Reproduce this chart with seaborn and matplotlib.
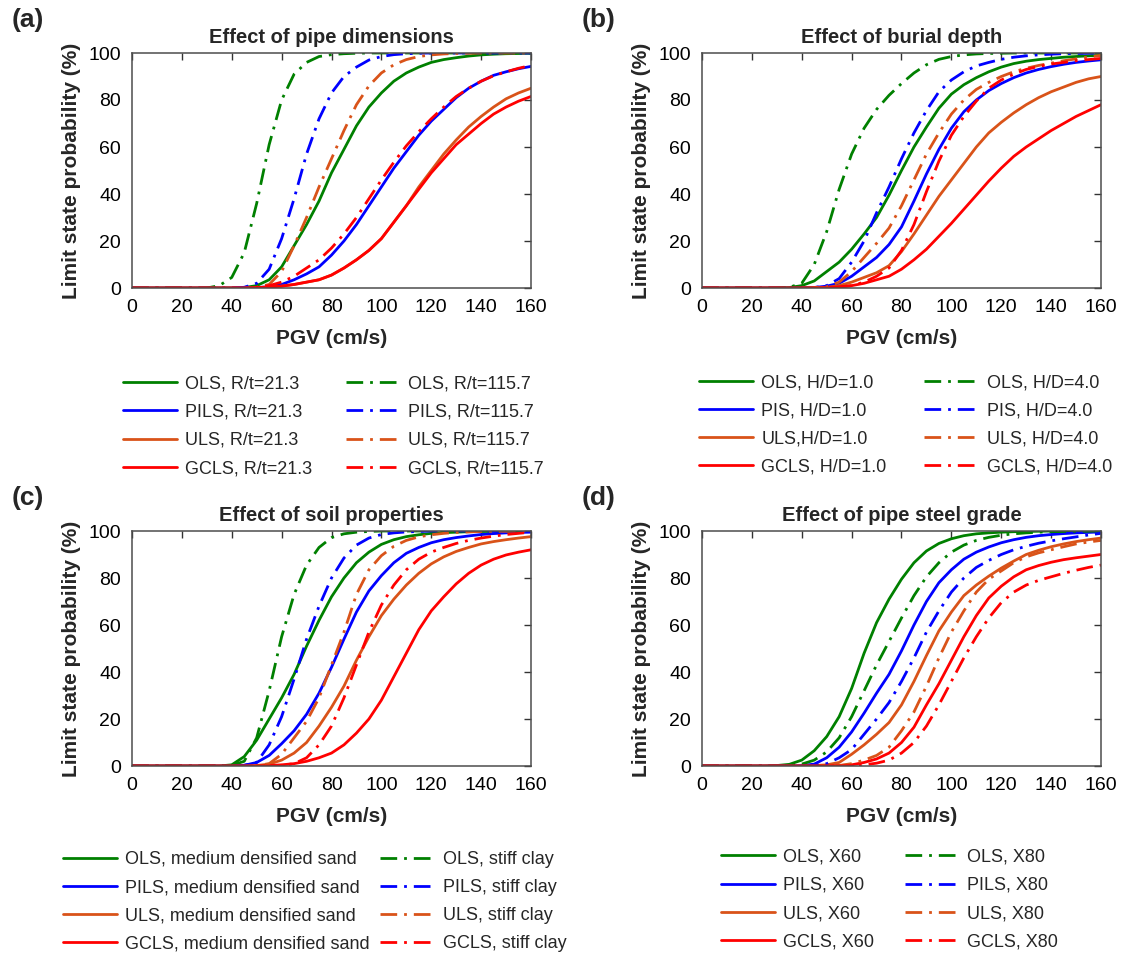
import numpy as np
import pandas as pd
import seaborn as sns
import matplotlib.pyplot as plt

# ---------------- data ----------------
PGV = list(range(0, 165, 5))  # cm/s

# (a) Effect of pipe dimensions
a_ols_213 = [0,0,0,0,0,0,0,0,0, 0.2,1,3.5,9,18,27,37,49,59,69,77,83,88,91.5,94,96,97.2,98,98.7,99.2,99.5,99.7,99.8,99.9]
a_pils_213 = [0,0,0,0,0,0,0,0,0,0, 0.2,0.5,1.5,3.5,6,9,14,20,27,35,43,51,58,65,71,76,81,85,88,90.5,92,93.3,94.3]
a_uls_213 = [0,0,0,0,0,0,0,0,0,0, 0.2,0.4,0.8,1.5,2.5,3.5,5.5,8.5,12,16,21,28,35,43,50,57,63,68.5,73,77,80.5,83,85]
a_gcls_213 = [0,0,0,0,0,0,0,0,0,0, 0.2,0.4,0.8,1.5,2.5,3.5,5.5,8.5,12,16,21,28,35,42,49,55,61,65.5,70,74,77,79.5,81.5]
a_ols_1157 = [0,0,0,0,0,0,0, 1,4.5,15,36,61,80,91,96,98.5,99.3,99.7,99.9, 100,100,100,100,100,100,100,100,100,100,100,100,100,100]
a_pils_1157 = [0,0,0,0,0,0,0,0,0, 0.3,2,8,21,38,57,72,83,90,94,97,98.5,99.3,99.7,99.9, 100,100,100,100,100,100,100,100,100]
a_uls_1157 = [0,0,0,0,0,0,0,0,0,0, 0.3,1.5,7,18,30,43,55,67,78,86,91.5,95,97.2,98.5,99.2,99.6,99.8,99.9, 100,100,100,100,100]
a_gcls_1157 = [0,0,0,0,0,0,0,0,0,0, 0.3,1,2.5,5,8.5,12,17,23,30,38,46,53.5,60.5,66.5,72,77,81.5,85,88,90.3,92,93.5,94.7]

# (b) Effect of burial depth
b_ols_10 = [0,0,0,0,0,0,0, 0.2,1,3,7,11,16.5,23,30,39.5,50,60,68.5,76.5,82.5,86.5,89.5,92,94,95.5,96.5,97.2,97.7,98.2,98.5,98.8,99]
b_pis_10 = [0,0,0,0,0,0,0,0,0, 0.2,0.8,2,5,9,13,18.5,26,37,48.5,59,68,75,80,84,87,89.5,91.5,93,94.2,95.2,96,96.6,97.1]
b_uls_10 = [0,0,0,0,0,0,0,0,0,0, 0.3,1,2.5,4.5,6.5,9.5,15.5,23,31,39,46,53,60,66,70.5,74.5,78,81,83.5,85.5,87.5,89,90]
b_gcls_10 = [0,0,0,0,0,0,0,0,0,0, 0.2,0.5,1,2,3.5,5,8,12,16.5,22,27.5,33.5,39.5,45.5,51,56,60,63.5,67,70,73,75.5,78]
b_ols_40 = [0,0,0,0,0,0,0, 0.3,2,10,24,42,57,68,76,82,87,91.5,95,97.3,98.5,99.2,99.6,99.8,99.9, 100,100,100,100,100,100,100,100]
b_pis_40 = [0,0,0,0,0,0,0,0,0, 0.2,1,4,11,20,32,43,55,66,75.5,83.5,88.5,92,94.5,96,97.3,98.2,98.8,99.2,99.5,99.7,99.8,99.9,100]
b_uls_40 = [0,0,0,0,0,0,0,0,0, 0.2,0.5,2.5,7,13,19,25.5,35,46,57,66,74,80,84.5,87.5,90,92,93.5,94.7,95.7,96.7,97.5,98.3,99]
b_gcls_40 = [0,0,0,0,0,0,0,0,0,0,0, 0.3,1,2.5,5,8.5,16,27,41,54,65,73,79.5,85,88.5,91,93,94.3,95.3,96,96.7,97.2,97.7]

# (c) Effect of soil properties
c_ols_med = [0,0,0,0,0,0,0,0, 0.5,4,11,20,29,39,51,62,72,80,86.5,91,94.3,96.3,97.6,98.4,99,99.3,99.5,99.7,99.8,99.9,100,100,100]
c_pils_med = [0,0,0,0,0,0,0,0,0, 0.3,1.5,4.5,9.5,15,22,31,42,54,65.5,74.5,81,86.5,90.5,93,95,96.3,97.2,97.9,98.5,98.9,99.2,99.4,99.5]
c_uls_med = [0,0,0,0,0,0,0,0,0,0, 0.2,0.8,2.5,5.5,10,17,25,34,45,55,64,71,77,82,86,89,91.3,93,94.5,95.5,96.3,97,97.6]
c_gcls_med = [0,0,0,0,0,0,0,0,0,0,0, 0.2,0.5,1,2,3.5,5.5,9,14,20,28,38,48,58,66,72,77.5,82,85.5,88,89.8,91,92]
c_ols_clay = [0,0,0,0,0,0,0,0, 0.3,2,12,32,55,73,85.5,93,97.2,98.8,99.5,99.8, 100,100,100,100,100,100,100,100,100,100,100,100,100]
c_pils_clay = [0,0,0,0,0,0,0,0,0, 0.3,1.5,9,21,37,54,68,80,88.5,94,97,98.5,99.2,99.6,99.8, 100,100,100,100,100,100,100,100,100]
c_uls_clay = [0,0,0,0,0,0,0,0,0,0, 0.2,1,5,12,19,29,43,57,73,83.5,89.5,93.5,96,97.5,98.4,99,99.4,99.6,99.8,99.9,99.9,100,100]
c_gcls_clay = [0,0,0,0,0,0,0,0,0,0,0,0, 0.3,1,3.5,9,17,29,43,57,68.5,77,83.5,88,91,93,94.7,96,97,97.8,98.5,99,99.5]

# (d) Effect of pipe steel grade
d_ols_x60 = [0,0,0,0,0,0, 0.2,0.7,2.5,6.5,12.5,21,33,48,61,71,79.5,86.5,91.5,94.7,96.7,98,98.8,99.2,99.5,99.7,99.8,99.9,100,100,100,100,100]
d_ols_x80 = [0,0,0,0,0,0,0, 0.2,0.8,2.5,6,12,21,32,43,53,63,72.5,80.5,86.5,91,94,96,97.3,98.2,98.8,99.2,99.5,99.7,99.8,99.9,99.9,100]
d_pils_x60 = [0,0,0,0,0,0,0,0, 0.2,0.8,3.5,8,14.5,22.5,31,39,49,60,70,78,83.5,88,91,93.2,95,96.3,97.3,98,98.5,98.9,99.2,99.4,99.6]
d_pils_x80 = [0,0,0,0,0,0,0,0,0, 0.3,1,3.5,7,13.5,20,27,36,46,57,66,74,80,84.5,87.5,90,92,93.5,94.8,95.8,96.7,97.5,98.3,99]
d_uls_x60 = [0,0,0,0,0,0,0,0,0, 0.2,0.5,1.5,5,9,13.5,18.5,26,36,47,57.5,65.5,72.5,77,80.8,84.2,87.2,90,91.8,93.3,94.5,95.5,96.3,97]
d_uls_x80 = [0,0,0,0,0,0,0,0,0,0,0, 0.2,1,2.5,4.5,8,15,23,34,46,57,66,74,79.5,83,86.5,89,90.7,92,93.3,94.5,95.3,96]
d_gcls_x60 = [0,0,0,0,0,0,0,0,0,0,0, 0.2,0.5,1.5,3,5.5,10,16.5,26,35,45,55,64,71.5,76.5,80.5,83.5,85.3,86.7,87.8,88.6,89.3,90]
d_gcls_x80 = [0,0,0,0,0,0,0,0,0,0,0,0, 0.2,0.5,1.2,2.5,5.5,10,17,26,36,46,55,63,69.5,74,77,79,80.5,82,83.3,84.5,85.5]

panel_titles = ["Effect of pipe dimensions", "Effect of burial depth",
                "Effect of soil properties", "Effect of pipe steel grade"]
panel_letters = ["(a)", "(b)", "(c)", "(d)"]

labels_a = ["OLS, R/t=21.3", "PILS, R/t=21.3", "ULS, R/t=21.3", "GCLS, R/t=21.3",
            "OLS, R/t=115.7", "PILS, R/t=115.7", "ULS, R/t=115.7", "GCLS, R/t=115.7"]
labels_b = ["OLS, H/D=1.0", "PIS, H/D=1.0", "ULS,H/D=1.0", "GCLS, H/D=1.0",
            "OLS, H/D=4.0", "PIS, H/D=4.0", "ULS, H/D=4.0", "GCLS, H/D=4.0"]
labels_c = ["OLS, medium densified sand", "PILS, medium densified sand",
            "ULS, medium densified sand", "GCLS, medium densified sand",
            "OLS, stiff clay", "PILS, stiff clay", "ULS, stiff clay", "GCLS, stiff clay"]
labels_d = ["OLS, X60", "PILS, X60", "ULS, X60", "GCLS, X60",
            "OLS, X80", "PILS, X80", "ULS, X80", "GCLS, X80"]

series_a = [a_ols_213, a_pils_213, a_uls_213, a_gcls_213, a_ols_1157, a_pils_1157, a_uls_1157, a_gcls_1157]
series_b = [b_ols_10, b_pis_10, b_uls_10, b_gcls_10, b_ols_40, b_pis_40, b_uls_40, b_gcls_40]
series_c = [c_ols_med, c_pils_med, c_uls_med, c_gcls_med, c_ols_clay, c_pils_clay, c_uls_clay, c_gcls_clay]
series_d = [d_ols_x60, d_pils_x60, d_uls_x60, d_gcls_x60, d_ols_x80, d_pils_x80, d_uls_x80, d_gcls_x80]

# ---------------- style ----------------
sns.set_theme(style="white")
plt.rcParams['font.family'] = ['Liberation Sans', 'DejaVu Sans']

state_colors = ['#008000', '#0000FF', '#D95319', '#FF0000']
DASHDOT = (6, 2.5, 1, 2.5)

W, H = 1121, 963
fig = plt.figure(figsize=(W / 100, H / 100), dpi=100)

ax_px = [(132, 53), (702, 53), (132, 531), (702, 531)]   # left, top in pixels
aw, ah = 399, 235
legend_anchor = [(0.505, -0.303), (0.51, -0.297), (0.457, -0.292), (0.47, -0.283)]
legend_colsp = [1.85, 2.1, 0.6, 1.7]
letter_pos = [(12, 20), (582, 20), (12, 498), (582, 498)]

all_series = [series_a, series_b, series_c, series_d]
all_labels = [labels_a, labels_b, labels_c, labels_d]

for p in range(4):
    left, top = ax_px[p]
    ax = fig.add_axes([left / W, 1 - (top + ah) / H, aw / W, ah / H])
    handles = []
    for i, (vals, lab) in enumerate(zip(all_series[p], all_labels[p])):
        col = state_colors[i % 4]
        df = pd.DataFrame({"PGV": PGV, "P": vals})
        sns.lineplot(data=df, x="PGV", y="P", ax=ax, color=col, linewidth=2.0,
                     label=lab, legend=False)
        line = ax.get_lines()[-1]
        line.set_solid_joinstyle('round')
        line.set_dash_joinstyle('round')
        if i >= 4:
            line.set_dashes(DASHDOT)
        handles.append(line)
    ax.set_xlim(0, 160)
    ax.set_ylim(0, 100)
    ax.set_xticks(range(0, 161, 20))
    ax.set_yticks(range(0, 101, 20))
    ax.tick_params(direction='in', length=5, width=1, top=True, right=True,
                   labelsize=14, colors='#333333', labelcolor='black', pad=8)
    for s in ax.spines.values():
        s.set_linewidth(1.1)
        s.set_color('#4d4d4d')
    ax.set_xlabel("PGV (cm/s)", fontsize=15, fontweight='bold', labelpad=9)
    ax.set_ylabel("Limit state probability (%)", fontsize=15, fontweight='bold', labelpad=5)
    ax.set_title(panel_titles[p], fontsize=14.5, fontweight='bold', pad=7)
    ax.legend(handles=handles, labels=all_labels[p], loc='upper center',
              bbox_to_anchor=legend_anchor[p], ncol=2, frameon=False,
              fontsize=13, handlelength=3.0, handletextpad=0.45,
              columnspacing=legend_colsp[p], labelspacing=0.62)
    fig.text(letter_pos[p][0] / W, 1 - letter_pos[p][1] / H, panel_letters[p],
             fontsize=19, fontweight='bold', va='center', ha='left')

fig.savefig("out.png", dpi=100)
